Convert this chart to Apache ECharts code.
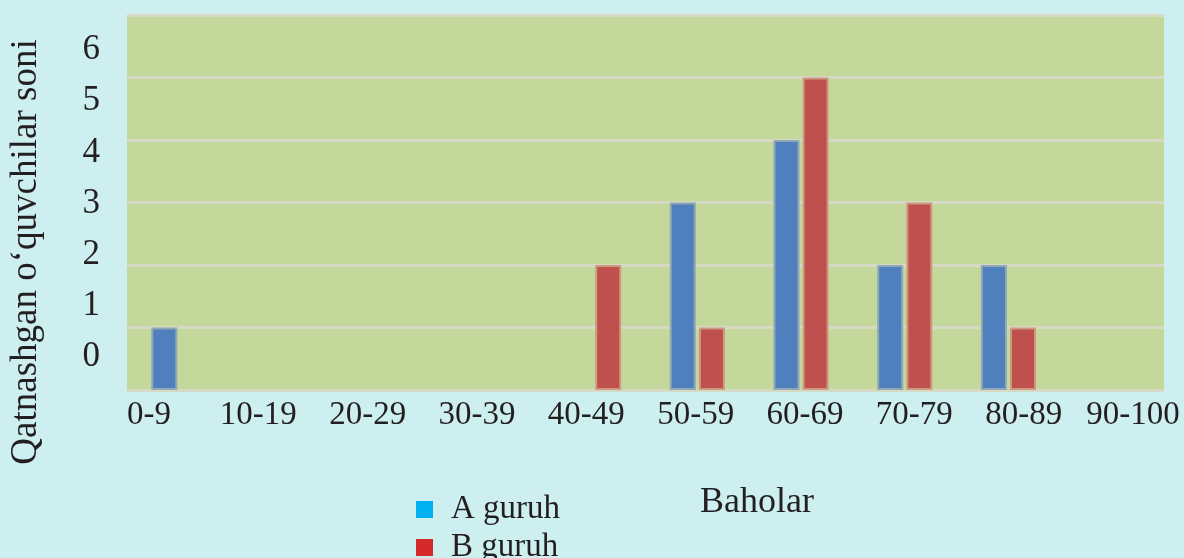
<!DOCTYPE html>
<html>
<head>
<meta charset="utf-8">
<script src="https://cdn.jsdelivr.net/npm/echarts@6/dist/echarts.min.js"></script>
<style>
  html, body { margin: 0; padding: 0; background: #cdeff0; }
  #chart { width: 1184px; height: 558px; }
</style>
</head>
<body>
<div id="chart"></div>
<script>
const categories = ['0-9', '10-19', '20-29', '30-39', '40-49', '50-59', '60-69', '70-79', '80-89', '90-100']
const groupA = [1, 0, 0, 0, 0, 3, 4, 2, 2, 0]
const groupB = [0, 0, 0, 0, 2, 1, 5, 3, 1, 0]
const yTicks = [0, 1, 2, 3, 4, 5, 6]

const serif = "'Liberation Serif', 'DejaVu Serif', serif"
const chart = echarts.init(document.getElementById('chart'), null, { renderer: 'canvas' })

// zero bars are left out so no border stub is drawn
const hideZero = arr => arr.map(v => (v === 0 ? null : v))

// one legend per row, stacked by hand (the bottom edge is too tight for a vertical legend)
function legendRow(name, color, top) {
  return {
    orient: 'horizontal',
    left: 416,
    top,
    padding: 0,
    itemWidth: 17,
    itemHeight: 17,
    icon: 'rect',
    textStyle: { fontFamily: serif, fontSize: 33, lineHeight: 24, color: '#231f20', padding: [0, 0, 0, 13] },
    data: [{ name, itemStyle: { color, borderWidth: 0 } }]
  }
}

chart.setOption({
  backgroundColor: '#cdeff0',
  animation: false,
  grid: [
    // plot area
    { left: 127, right: 20, top: 15, bottom: 168, show: true, backgroundColor: '#c4d89c', borderWidth: 0 },
    // x labels (spread a bit wider than the bars)
    { left: 149, right: 51, top: 15, bottom: 168 },
    // y labels (squeezed, not on gridlines)
    { left: 127, right: 20, top: 50, bottom: 201 }
  ],
  legend: [
    legendRow('A guruh', '#00b0f0', 493),
    legendRow('B guruh', '#d42a2c', 531)
  ],
  graphic: [
    {
      type: 'text',
      left: 700,
      top: 485,
      style: { text: 'Baholar', font: '36px ' + serif, fill: '#231f20' }
    },
    {
      type: 'text',
      x: 26,
      y: 252,
      rotation: Math.PI / 2,
      style: {
        text: 'Qatnashgan o‘quvchilar soni',
        font: '37px ' + serif,
        fill: '#231f20',
        align: 'center',
        verticalAlign: 'middle'
      }
    }
  ],
  xAxis: [
    {
      type: 'category',
      gridIndex: 0,
      data: categories,
      axisLine: { show: false },
      axisTick: { show: false },
      axisLabel: { show: false }
    },
    {
      type: 'category',
      gridIndex: 1,
      data: categories,
      boundaryGap: false,
      axisLine: { show: false },
      axisTick: { show: false },
      axisLabel: { interval: 0, fontFamily: serif, fontSize: 33, color: '#231f20', margin: 9 }
    },
    {
      type: 'category',
      gridIndex: 2,
      data: categories,
      show: false
    }
  ],
  yAxis: [
    {
      type: 'value',
      gridIndex: 0,
      min: 0,
      max: 6,
      interval: 1,
      axisLine: { show: false },
      axisTick: { show: false },
      axisLabel: { show: false },
      splitLine: { lineStyle: { color: '#d6dac4', width: 3 } }
    },
    {
      type: 'value',
      gridIndex: 1,
      min: 0,
      max: 6,
      show: false
    },
    {
      type: 'value',
      gridIndex: 2,
      min: yTicks[0],
      max: yTicks[yTicks.length - 1],
      interval: 1,
      axisLine: { show: false },
      axisTick: { show: false },
      splitLine: { show: false },
      axisLabel: { fontFamily: serif, fontSize: 35, color: '#231f20', margin: 27 }
    }
  ],
  series: [
    {
      name: 'A guruh',
      type: 'bar',
      xAxisIndex: 0,
      yAxisIndex: 0,
      barWidth: 26,
      barGap: '12%',
      data: hideZero(groupA),
      itemStyle: { color: '#4f7fbd', borderColor: '#8ea8b6', borderWidth: 2 }
    },
    {
      name: 'B guruh',
      type: 'bar',
      xAxisIndex: 0,
      yAxisIndex: 0,
      barWidth: 26,
      data: hideZero(groupB),
      itemStyle: { color: '#c0504d', borderColor: '#cc9a80', borderWidth: 2 }
    }
  ]
})

window.addEventListener('resize', () => chart.resize())
</script>
</body>
</html>
